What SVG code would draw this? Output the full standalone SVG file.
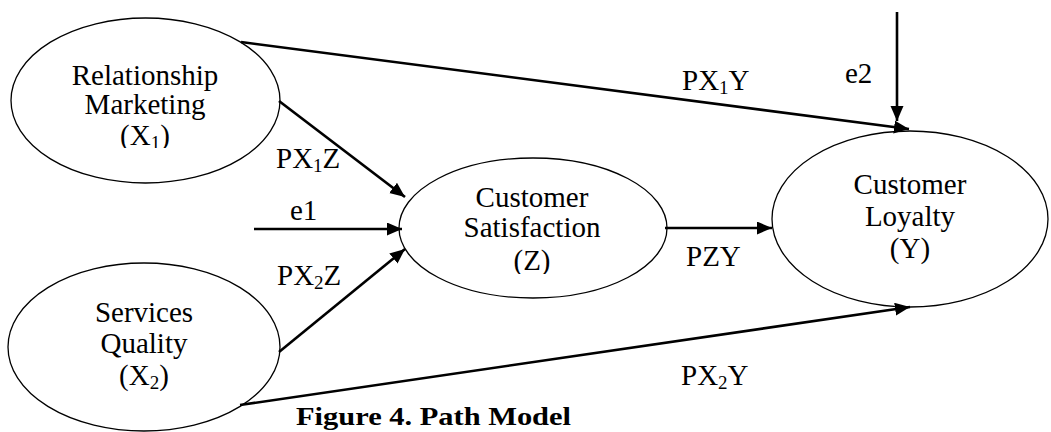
<svg xmlns="http://www.w3.org/2000/svg" width="1051" height="432" viewBox="0 0 1051 432">
  <style>
    .node { fill: #ffffff; stroke: #000000; stroke-width: 1.3; }
    .txt { font-family: "Liberation Serif", "Times New Roman", serif; font-size: 29px; fill: #000000; text-anchor: middle; }
    .lbl { font-family: "Liberation Serif", "Times New Roman", serif; font-size: 29px; fill: #000000; }
    .sub { font-size: 19px; }
    .edge { stroke: #000000; stroke-width: 2.6; fill: none; marker-end: url(#arrow); }
    .caption { font-family: "Liberation Serif", "Times New Roman", serif; font-size: 26px; font-weight: bold; fill: #000000; }
  </style>
  <defs>
    <marker id="arrow" markerUnits="userSpaceOnUse" markerWidth="16" markerHeight="14" refX="15" refY="6.5" orient="auto">
      <path d="M0,0 L15,6.5 L0,13 Z" fill="#000000"/>
    </marker>
    <clipPath id="clipX1"><rect x="0" y="0" width="300" height="148"/></clipPath>
    <clipPath id="clipZ"><rect x="390" y="150" width="290" height="124"/></clipPath>
  </defs>

  <rect x="0" y="0" width="1051" height="432" fill="#ffffff"/>

  <!-- Relationship Marketing (X1) -->
  <g id="node-x1">
    <ellipse class="node" cx="145.5" cy="100.5" rx="134.5" ry="82.5"/>
    <text class="txt" x="145" y="85">Relationship</text>
    <text class="txt" x="145" y="114">Marketing</text>
    <text class="txt" x="145" y="145" clip-path="url(#clipX1)">(X<tspan class="sub" dy="4">1</tspan><tspan dy="-4">)</tspan></text>
  </g>

  <!-- Services Quality (X2) -->
  <g id="node-x2">
    <ellipse class="node" cx="144" cy="347" rx="136" ry="84"/>
    <text class="txt" x="144" y="322">Services</text>
    <text class="txt" x="144" y="353">Quality</text>
    <text class="txt" x="144" y="385">(X<tspan class="sub" dy="4">2</tspan><tspan dy="-4">)</tspan></text>
  </g>

  <!-- Customer Satisfaction (Z) -->
  <g id="node-z">
    <ellipse class="node" cx="533" cy="228" rx="134" ry="70"/>
    <text class="txt" x="532" y="207">Customer</text>
    <text class="txt" x="532" y="237">Satisfaction</text>
    <text class="txt" x="532" y="270" clip-path="url(#clipZ)">(Z)</text>
  </g>

  <!-- Customer Loyalty (Y) -->
  <g id="node-y">
    <ellipse class="node" cx="910" cy="219" rx="138" ry="88"/>
    <text class="txt" x="910" y="194">Customer</text>
    <text class="txt" x="910" y="226">Loyalty</text>
    <text class="txt" x="910" y="258">(Y)</text>
  </g>

  <!-- Paths and error terms -->
  <g id="connectors">
    <line class="edge" x1="241" y1="42" x2="909" y2="129"/>
    <line class="edge" x1="897" y1="12" x2="897" y2="121"/>
    <line class="edge" x1="279" y1="101" x2="405" y2="197"/>
    <line class="edge" x1="254" y1="229" x2="402" y2="229"/>
    <line class="edge" x1="279" y1="352" x2="405" y2="249"/>
    <line class="edge" x1="665" y1="228" x2="772" y2="228"/>
    <line class="edge" x1="240" y1="405" x2="910" y2="307"/>
  </g>

  <!-- Path coefficient labels -->
  <g id="labels">
    <text class="lbl" x="682" y="90">PX<tspan class="sub" dy="4">1</tspan><tspan dy="-4">Y</tspan></text>
    <text class="lbl" x="845" y="83">e2</text>
    <text class="lbl" x="276" y="168">PX<tspan class="sub" dy="4">1</tspan><tspan dy="-4">Z</tspan></text>
    <text class="lbl" x="290" y="220">e1</text>
    <text class="lbl" x="277" y="285">PX<tspan class="sub" dy="4">2</tspan><tspan dy="-4">Z</tspan></text>
    <text class="lbl" x="686" y="266">PZY</text>
    <text class="lbl" x="681" y="385">PX<tspan class="sub" dy="4">2</tspan><tspan dy="-4">Y</tspan></text>
  </g>

  <text class="caption" x="296" y="425" textLength="275" lengthAdjust="spacingAndGlyphs">Figure 4. Path Model</text>
</svg>
